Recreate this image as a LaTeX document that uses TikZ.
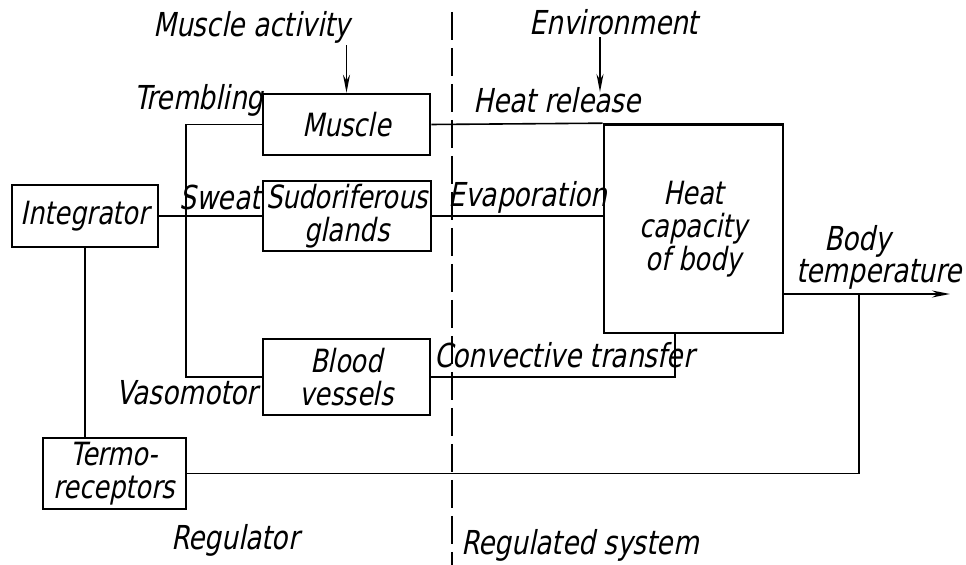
\documentclass[tikz,border=0pt]{standalone}
\usepackage{fontspec}
\setmainfont{DejaVu Sans}[FakeStretch=0.8,FakeSlant=0.2]
\usetikzlibrary{calc,arrows.meta}

\tikzset{
  blk/.style={draw, line width=1.3pt, inner sep=0pt, align=center,
    font=\fontsize{16}{16.5}\selectfont},
  lbl/.style={inner sep=1pt, align=center},
  wire/.style={line width=0.8pt},
  tip/.style={-{Stealth[length=9pt,width=3.5pt]}},
}

\begin{document}
\begin{tikzpicture}[x=0.5pt,y=-0.5pt,font=\fontsize{16.5}{15}\selectfont]
  \useasboundingbox (0,0) rectangle (966,565);
  % regulator
  \node[blk,minimum width=73pt,minimum height=31pt] (integ) at (85,216) {Integrator};
  \node[blk,minimum width=71.5pt,minimum height=35.5pt] (termo) at (114.5,473.5) {Termo-\\receptors};
  \node[blk,minimum width=83.5pt,minimum height=30.5pt] (muscle) at (346.5,124.5) {Muscle};
  \node[blk,minimum width=84pt,minimum height=35pt] (sudor) at (347,216) {Sudoriferous\\glands};
  \node[blk,minimum width=83.5pt,minimum height=38pt] (blood) at (346.5,377) {Blood\\vessels};
  % regulated system
  \node[blk,minimum width=89.5pt,minimum height=104.25pt] (heat) at (693.5,228.75) {Heat\\capacity\\of body};
  % labels
  \node[lbl] (mact) at (252,27) {Muscle activity};
  \node[lbl] (env) at (614,22) {Environment};
  \node[lbl] (tremb) at (199,100) {Trembling};
  \node[lbl] (sweat) at (220,197) {Sweat};
  \node[lbl] (vaso) at (187,393) {Vasomotor};
  \node[lbl] (hrel) at (557,100) {Heat release};
  \node[lbl] (evap) at (528,197) {Evaporation};
  \node[lbl] (conv) at (564,355) {Convective transfer};
  \node[lbl] (btemp) at (879,257) {Body\hspace*{21pt}\\temperature};
  \node[lbl] (regl) at (235,540) {Regulator};
  \node[lbl] (regd) at (580,545) {Regulated system};
  \coordinate (bus) at (186,300);
  \coordinate (envtip) at (600,92);
  \coordinate (tapp) at (859,294);
  \coordinate (tout) at (950,294);
  \coordinate (dtop) at (452,12);
  \coordinate (dbot) at (452,565);
  % connections
  \draw[wire] (muscle.west) -- (muscle.west -| bus) |- (blood.west);
  \draw[wire] (integ.east) -- (sudor.west);
  \draw[wire] (integ.south) -- (integ.south |- termo.north);
  \draw[wire] (muscle.east) -- (heat.north west);
  \draw[wire] (sudor.east) -- (sudor.east -| heat.west);
  \draw[wire] (blood.east) -| ($(heat.south west)+(72,0)$);
  \draw[wire,tip] (heat.east |- tapp) -- (tout);
  \draw[wire] (termo.east) -| (tapp);
  \draw[wire,tip] (muscle.north |- mact.south) -- (muscle.north);
  \draw[wire,tip] (env.south -| envtip) -- (envtip);
  \draw[wire,dash pattern=on 14pt off 4pt] (dtop) -- (dbot);
\end{tikzpicture}
\end{document}
